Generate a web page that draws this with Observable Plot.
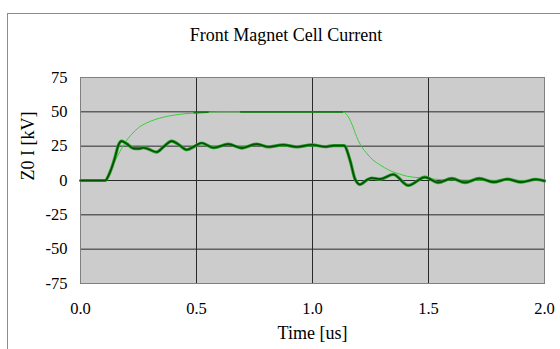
<!DOCTYPE html>
<html>
<head>
<meta charset="utf-8">
<script src="https://cdn.jsdelivr.net/npm/d3@7"></script>
<script src="https://cdn.jsdelivr.net/npm/@observablehq/plot@0.6"></script>
<style>
  html, body { margin: 0; padding: 0; background: #ffffff; overflow: hidden; }
  #wrap { position: relative; width: 560px; height: 349px; overflow: hidden; font-family: "Liberation Serif", "Times New Roman", serif; }
  #frame { position: absolute; left: 7px; top: 13px; width: 700px; height: 500px; border-left: 1px solid #8c8c8c; border-top: 1px solid #8c8c8c; }
  #title { position: relative; height: 45px; }
  #title span { position: absolute; left: 0; width: 572px; top: 26px; text-align: center; font-size: 18px; line-height: 1; color: #000; }
  #chart { position: relative; }
  #chart svg text { font-family: "Liberation Serif", "Times New Roman", serif; font-variant: normal; }
</style>
</head>
<body>
<div id="wrap">
  <div id="frame"></div>
  <div id="title"><span>Front Magnet Cell Current</span></div>
  <div id="chart"></div>
</div>
<script>
// Tick labels
const xTicks = [0, 0.5, 1.0, 1.5, 2.0];
const yTicks = [-75, -50, -25, 0, 25, 50, 75];
const xGrid = [0.5, 1.0, 1.5];
const yGrid = [-50, -25, 0, 25, 50];

// Light green series (smooth exponential-like response)
const lightT = [0, 0.105, 0.12, 0.14, 0.16, 0.18, 0.2, 0.22, 0.25, 0.28, 0.32, 0.36, 0.4, 0.45, 0.5, 0.55, 0.6, 0.7, 0.9, 1.13, 1.15, 1.17, 1.19, 1.205, 1.23, 1.26, 1.29, 1.33, 1.37, 1.41, 1.46, 1.5, 1.6, 1.7, 1.85, 2.0];
const lightV = [0, 0, 4, 11, 18, 24, 29.5, 33.5, 38.5, 41.5, 44.3, 46.2, 47.5, 48.6, 49.3, 49.8, 50, 50, 50, 50, 47.5, 41, 32, 26.5, 20.5, 15, 11.5, 7.5, 5, 3, 2, 1.2, 0.5, 0.2, 0.1, 0];

// Dark green series (ringing current)
const darkT = [0, 0.106, 0.127, 0.149, 0.163, 0.177, 0.199, 0.228, 0.25, 0.271, 0.292, 0.328, 0.357, 0.393, 0.422, 0.458, 0.486, 0.522, 0.573, 0.637, 0.695, 0.759, 0.81, 0.874, 0.932, 0.997, 1.054, 1.09, 1.136, 1.162, 1.183, 1.205, 1.235, 1.255, 1.291, 1.348, 1.413, 1.485, 1.542, 1.6, 1.657, 1.719, 1.78, 1.84, 1.9, 1.963, 2.0];
const darkV = [0, 0, 6, 17, 25.6, 28.7, 26.8, 23.4, 23.2, 23.9, 22.9, 20.7, 24.4, 28.7, 26.3, 22.4, 24.4, 27.3, 23.9, 26.5, 23.6, 26.5, 24.4, 26, 24.4, 26, 24.6, 25.4, 25.4, 14.6, 1.2, -2.9, 0.5, 1.8, 1.0, 4.4, -3.6, 2.4, -1.5, 1.5, -1.5, 1.5, -1.2, 1.0, -1.2, 0.8, -0.3];

// Darker overlay pieces on the 50 kV plateau
const overT = [0.49, 0.55, 0.69, 1.13];
const overV = [49.3, 49.8, 50, 50];
const overSeg = [1, 1, 2, 2];

const light = lightT.map((t, i) => ({t, v: lightV[i]}));
const dark = darkT.map((t, i) => ({t, v: darkV[i]}));
const over = overT.map((t, i) => ({t, v: overV[i], s: overSeg[i]}));

const serif = "Liberation Serif";
const chart = Plot.plot({
  width: 560,
  height: 304,
  marginTop: 32,
  marginBottom: 66,
  marginLeft: 80,
  marginRight: 16,
  style: {fontFamily: serif, fontSize: "16px", background: "transparent", color: "#000"},
  x: {domain: [0, 2]},
  y: {domain: [-75, 75]},
  marks: [
    Plot.frame({fill: "#cccccc", stroke: null}),
    Plot.ruleY(yGrid, {stroke: "#2a2a2a", strokeWidth: 1}),
    Plot.ruleX(xGrid, {stroke: "#2a2a2a", strokeWidth: 1}),
    Plot.frame({stroke: "#808080", strokeWidth: 1}),
    Plot.line(light, {x: "t", y: "v", stroke: "#3ccc3c", strokeWidth: 1, curve: "monotone-x"}),
    Plot.line(over, {x: "t", y: "v", z: "s", stroke: "#147814", strokeWidth: 1.6}),
    Plot.line(dark, {x: "t", y: "v", stroke: "#2e9e2e", strokeWidth: 3.2, curve: "monotone-x"}),
    Plot.line(dark, {x: "t", y: "v", stroke: "#005200", strokeWidth: 1.6, curve: "monotone-x"}),
    Plot.axisX({ticks: xTicks, tickSize: 0, tickPadding: 19, tickFormat: d => d.toFixed(1), label: null, fontFamily: serif, fontSize: 16.5}),
    Plot.axisY({ticks: yTicks, tickSize: 0, tickPadding: 13, tickFormat: d => String(d), label: null, fontFamily: serif, fontSize: 16.5}),
    Plot.text(["Time [us]"], {frameAnchor: "bottom", dy: 55, fontSize: 18, fontFamily: serif, fill: "#000"}),
    Plot.text(["Z0 I [kV]"], {frameAnchor: "left", dx: -52, rotate: -90, fontSize: 18, fontFamily: serif, fill: "#000"})
  ]
});
document.getElementById("chart").appendChild(chart);
</script>
</body>
</html>
